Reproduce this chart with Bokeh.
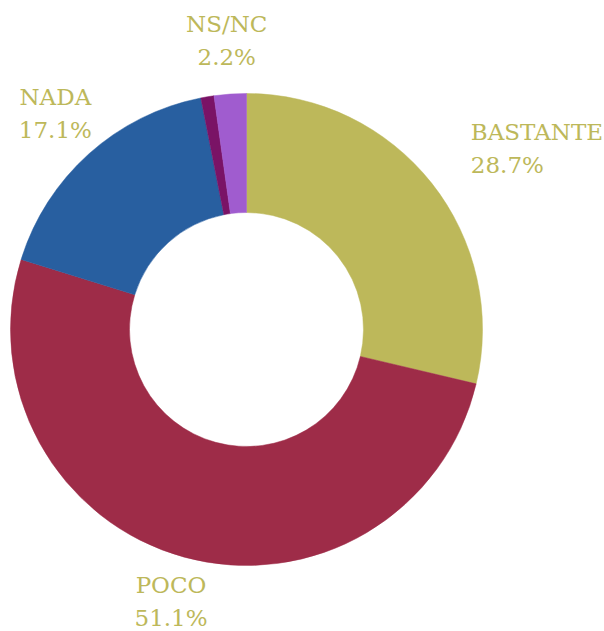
import math
from bokeh.plotting import figure
from bokeh.models import Range1d, ColumnDataSource
from bokeh.core.properties import value
from bokeh.embed import file_html
from bokeh.resources import INLINE

# ---- data ----
categories = ["BASTANTE", "POCO", "NADA", "MUCHO", "NS/NC"]
percentages = [28.7, 51.1, 17.1, 0.9, 2.2]
slice_colors = ["#BDB85A", "#9E2C48", "#285FA0", "#7A1366", "#A05CCF"]

LABEL_COLOR = "#BDB85A"
FONT = "DejaVu Serif"

# ---- layout (pixels) ----
W, H = 604, 631
CX, CY = 246, 329          # donut centre inside the figure (screen px)
R_OUT, R_IN = 236, 117
R_LAB = 286

p = figure(width=W, height=H,
           x_range=Range1d(-CX, W - CX), y_range=Range1d(-(H - CY), CY),
           x_axis_type=None, y_axis_type=None,
           output_backend="svg", toolbar_location=None, min_border=0)
p.grid.visible = False
p.outline_line_color = None
p.background_fill_color = "white"
p.border_fill_color = "white"

total = sum(percentages)
starts, ends, mids = [], [], []
cum = 0.0
for v in percentages:
    c0 = cum / total
    cum += v
    c1 = cum / total
    # clockwise from 12 o'clock
    starts.append(math.pi / 2 - 2 * math.pi * c1)
    ends.append(math.pi / 2 - 2 * math.pi * c0)
    mids.append(2 * math.pi * (c0 + c1) / 2)

src = ColumnDataSource(dict(start=starts, end=ends, color=slice_colors,
                            cat=categories, pct=percentages))
p.annular_wedge(x=0, y=0, inner_radius=R_IN, outer_radius=R_OUT,
                start_angle="start", end_angle="end",
                fill_color="color", line_color="color", line_width=0.5,
                source=src)

for cat, v, th in zip(categories, percentages, mids):
    if v < 1:
        continue
    s = math.sin(th)
    lx = R_LAB * s
    ly = R_LAB * math.cos(th)
    align = "left" if s > 0.7 else ("right" if s < -0.7 else "center")
    p.text(x=[lx], y=[ly + 20], text=[cat], text_align=align,
           text_baseline="alphabetic", text_font=value(FONT),
           text_font_size="23px", text_color=LABEL_COLOR)
    p.text(x=[lx], y=[ly - 13], text=[f"{v:.1f}%"], text_align=align,
           text_baseline="alphabetic", text_font=value(FONT),
           text_font_size="23px", text_color=LABEL_COLOR)

open("out.html", "w").write(file_html(p, INLINE))
